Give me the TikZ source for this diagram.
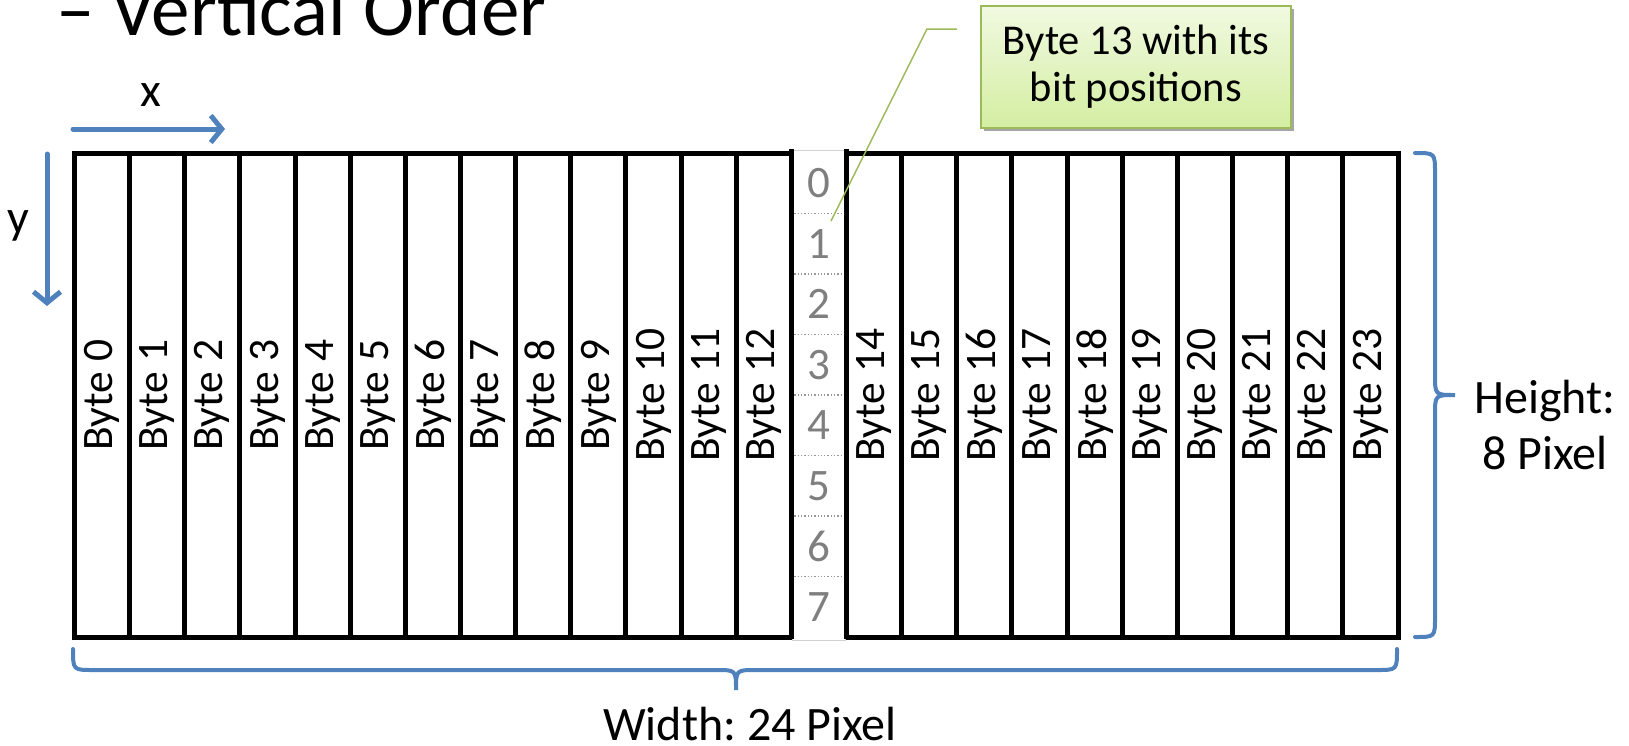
\documentclass[tikz,border=0pt]{standalone}
\usepackage{fontspec}
\setmainfont{Carlito}
\frenchspacing
\usetikzlibrary{arrows.meta,shadows}
\definecolor{offblue}{RGB}{79,129,189}
\definecolor{leafgreen}{RGB}{155,187,89}
\definecolor{boxtop}{RGB}{241,249,225}
\definecolor{boxbot}{RGB}{212,238,162}
\definecolor{bitgray}{RGB}{127,127,127}
\begin{document}
\begin{tikzpicture}[x=1pt,y=-1pt,
  gridline/.style={line width=5pt, black},
  bytelabel/.style={rotate=90, inner sep=0pt, font=\fontsize{43.5}{48}\selectfont},
  bitlabel/.style={inner sep=0pt, text=bitgray, font=\fontsize{45}{48}\selectfont},
  bitsep/.style={bitgray!80, line width=1.3pt, dotted},
  bluearrow/.style={offblue, line width=5pt, line cap=round, -{Straight Barb[length=11pt,width=27pt]}},
  bracestyle/.style={offblue, line width=4pt, line cap=round},
  txtlabel/.style={inner sep=0pt, font=\fontsize{48}{56}\selectfont, align=center},
  notebox/.style={draw=leafgreen, line width=1.5pt, top color=boxtop, bottom color=boxbot,
    minimum width=310pt, minimum height=122pt, inner sep=0pt, align=center,
    font=\fontsize{42.5}{47}\selectfont,
    drop shadow={shadow xshift=3pt, shadow yshift=-3pt, opacity=0.35, fill=black}},
  leaderline/.style={leafgreen, line width=1.5pt},
]
\useasboundingbox (0,0) rectangle (1629,745);
\def\xl{74.5}
\def\xr{1398}
\def\yt{153}
\def\yb{637}
\pgfmathsetmacro\cw{(\xr-\xl)/24}
\pgfmathsetmacro\rh{(\yb-\yt)/8}

% title (cut at top)
\node[anchor=base west, inner sep=0pt, font=\fontsize{77}{80}\selectfont] (title) at (56,35) {– Vertical Order};

% grid
\draw[gridline] (\xl,\yt) rectangle (\xr,\yb);
\foreach \i in {1,...,23} {
  \draw[gridline] ({\xl+\i*\cw},\yt) -- ({\xl+\i*\cw},\yb);
}

% byte 13 column with bit positions
\node[draw=gray!35, fill=white, line width=1pt, minimum width={\cw*1pt-3pt}, minimum height=490pt, inner sep=0pt]
  (byte13) at ({\xl+13.5*\cw},{(\yt+\yb)/2}) {};
\draw[gridline] ({\xl+13*\cw},149) -- ({\xl+13*\cw},\yb+2);
\draw[gridline] ({\xl+14*\cw},149) -- ({\xl+14*\cw},\yb+2);
\foreach \k in {1,...,7} {
  \draw[bitsep] ({\xl+13*\cw+3},{\yt+\k*\rh}) -- ({\xl+14*\cw-3},{\yt+\k*\rh});
}
\foreach \k in {0,...,7} {
  \node[bitlabel] (bit\k) at ({\xl+13.5*\cw},{\yt+(\k+0.5)*\rh}) {\k};
}

% byte labels
\foreach \i in {0,...,12,14,15,...,23} {
  \node[bytelabel] (b\i) at ({\xl+(\i+0.5)*\cw},{(\yt+\yb)/2}) {Byte \i};
}

% axis arrows
\coordinate (xs) at (73,129);
\coordinate (xe) at (225,129);
\draw[bluearrow] (xs) -- (xe);
\node[anchor=base, inner sep=0pt, font=\fontsize{48}{56}\selectfont] (xlab) at (151,106) {x};
\coordinate (ys) at (47,154);
\coordinate (ye) at (47,306);
\draw[bluearrow] (ys) -- (ye);
\node[anchor=base, inner sep=0pt, font=\fontsize{48}{56}\selectfont] (ylab) at (18,233) {y};

% right brace
\coordinate (rbt) at (1415,153);
\coordinate (rbtip) at (1455,395);
\coordinate (rbb) at (1415,637);
\draw[bracestyle] (rbt) .. controls (1435,153) .. (1435,173) -- (1435,375)
  .. controls (1435,395) .. (rbtip) .. controls (1435,395) .. (1435,415)
  -- (1435,617) .. controls (1435,637) .. (rbb);
\node[txtlabel] (hlabel) at (1545,425) {Height:\\8 Pixel};

% bottom brace
\coordinate (bbl) at (73,649);
\coordinate (bbtip) at (736,690);
\coordinate (bbr) at (1397,649);
\draw[bracestyle] (bbl) .. controls (73,670) .. (93,670) -- (716,670)
  .. controls (736,670) .. (bbtip) .. controls (736,670) .. (756,670)
  -- (1377,670) .. controls (1397,670) .. (bbr);
\node[txtlabel, anchor=base] (wlabel) at (750,740) {Width: 24 Pixel};

% callout
\node[notebox] (note) at (1136,67) {Byte 13 with its\\bit positions};
\coordinate (lstart) at (957,29);
\coordinate (lbend) at (927,29);
\coordinate (ltip) at (831,221);
\draw[leaderline] (lstart) -- (lbend) -- (ltip);
\end{tikzpicture}
\end{document}
